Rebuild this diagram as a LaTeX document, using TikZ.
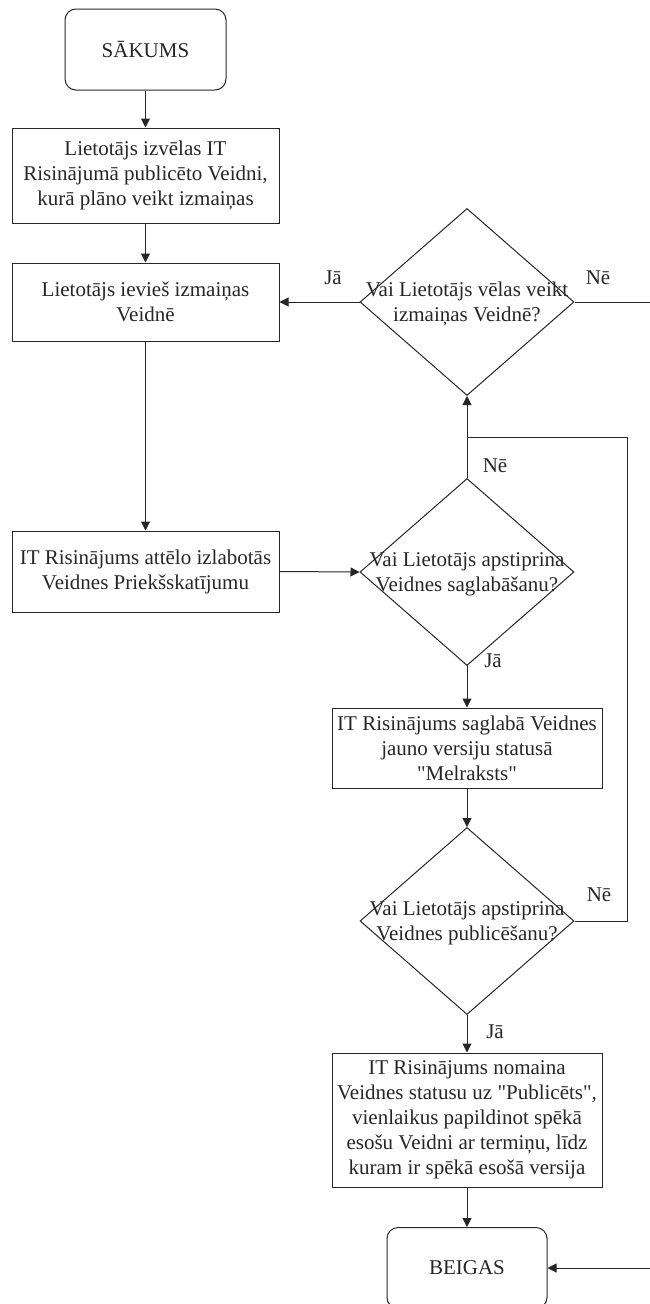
\documentclass[tikz,border=0pt]{standalone}
\usepackage{fontspec}
\setmainfont{Liberation Serif}
\usetikzlibrary{shapes.geometric,arrows.meta}
\newcommand\dq{\XeTeXglyph\XeTeXglyphindex "quotedbl" }
\begin{document}
\begin{tikzpicture}[x=1pt,y=-1pt,
  every node/.style={font=\fontsize{21}{25}\selectfont, text=black!85},
  base/.style={draw=black!85, line width=1pt, align=center, inner sep=0pt},
  term/.style={base, rounded corners=11pt, minimum width=161pt, minimum height=81pt},
  proc/.style={base, minimum width=267pt},
  dec/.style={base, diamond, minimum width=214pt, minimum height=187pt},
  dtext/.style={align=center, inner sep=0pt},
  lbl/.style={inner sep=0pt},
  conn/.style={draw=black!85, line width=1pt, -{Triangle[length=9pt,width=9pt]}},
  plain/.style={draw=black!85, line width=1pt}
]
\useasboundingbox (0,0) rectangle (649,1304);

\node[term] (start) at (145.5,49.5) {SĀKUMS};
\node[proc, minimum height=95pt] (b1) at (145.5,175.5) {Lietotājs izvēlas IT\\Risinājumā publicēto Veidni,\\kurā plāno veikt izmaiņas};
\node[proc, minimum height=78pt] (b2) at (145.5,302) {Lietotājs ievieš izmaiņas\\Veidnē};
\node[proc, minimum height=81pt] (b3) at (145.5,571.5) {IT Risinājums attēlo izlabotās\\Veidnes Priekšskatījumu};

\node[dec] (d1) at (467,302) {};
\node[dtext] (d1t) at (467,304) {Vai Lietotājs vēlas veikt\\izmaiņas Veidnē?};
\node[dec] (d2) at (467,572) {};
\node[dtext] (d2t) at (467,574) {Vai Lietotājs apstiprina\\Veidnes saglabāšanu?};
\node[proc, minimum width=270pt, minimum height=80pt] (b4) at (467,748) {IT Risinājums saglabā Veidnes\\jauno versiju statusā\\\dq Melraksts\dq};
\node[dec] (d3) at (467,921) {};
\node[dtext] (d3t) at (467,923) {Vai Lietotājs apstiprina\\Veidnes publicēšanu?};
\node[proc, minimum width=270pt, minimum height=134pt] (b5) at (467,1120) {IT Risinājums nomaina\\Veidnes statusu uz \dq Publicēts\dq,\\vienlaikus papildinot spēkā\\esošu Veidni ar termiņu, līdz\\kuram ir spēkā esošā versija};
\node[term, minimum width=160pt] (end) at (467,1268) {BEIGAS};

\coordinate (r1) at (665,302);
\coordinate (r2) at (665,1268);
\coordinate (m1) at (627,921);
\coordinate (m2) at (627,437);
\coordinate (m3) at (467,437);

\draw[conn] (start.south) -- (b1.north);
\draw[conn] (b1.south) -- (b2.north);
\draw[conn] (d1.west) -- (b2.east);
\draw[conn] (d1.east) -- (r1) -- (r2) -- (end.east);
\draw[conn] (b2.south) -- (b3.north);
\draw[conn] (b3.east) -- (d2.west);
\draw[conn] (d2.north) -- (d1.south);
\draw[plain] (d3.east) -- (m1) -- (m2) -- (m3);
\draw[conn] (d2.south) -- (b4.north);
\draw[conn] (b4.south) -- (d3.north);
\draw[conn] (d3.south) -- (b5.north);
\draw[conn] (b5.south) -- (end.north);

\node[lbl] (l1) at (333,278) {Jā};
\node[lbl] (l2) at (598,278) {Nē};
\node[lbl] (l3) at (495,466) {Nē};
\node[lbl] (l4) at (493,661) {Jā};
\node[lbl] (l5) at (599,895) {Nē};
\node[lbl] (l6) at (495,1032) {Jā};
\end{tikzpicture}
\end{document}
